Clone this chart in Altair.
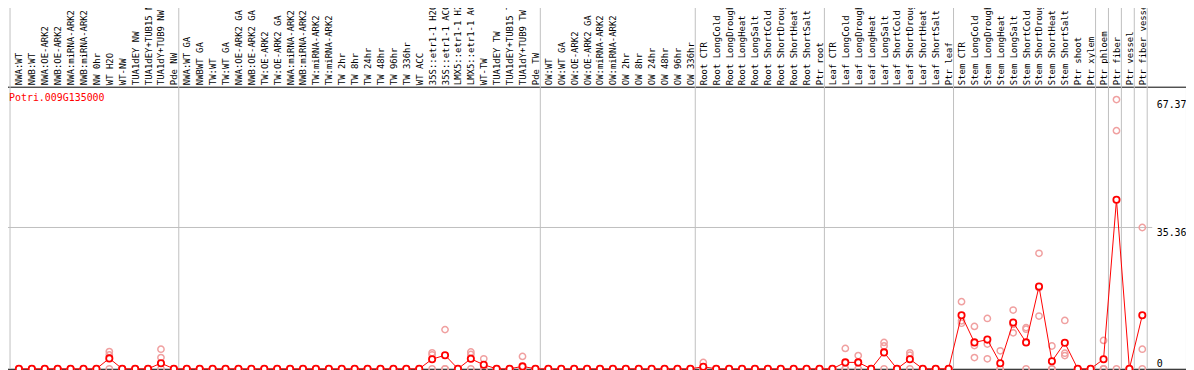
import json
import altair as alt
import pandas as pd

gene = "Potri.009G135000"

categories = [
    "NWA:WT", "NWB:WT", "NWA:OE-ARK2", "NWB:OE-ARK2", "NWA:miRNA-ARK2", "NWB:miRNA-ARK2",
    "NW 0hr", "WT H2O", "WT-NW", "TUA1dEY NW", "TUA1dEY+TUB15 NW", "TUA1dY+TUB9 NW", "Pde NW",
    "NWA:WT GA", "NWBWT GA", "TW:WT", "TW:WT GA", "NWA:OE-ARK2 GA", "NWB:OE-ARK2 GA",
    "TW:OE-ARK2", "TW:OE-ARK2 GA", "NWA:miRNA-ARK2", "NWB:miRNA-ARK2", "TW:miRNA-ARK2",
    "TW:miRNA-ARK2", "TW 2hr", "TW 8hr", "TW 24hr", "TW 48hr", "TW 96hr", "TW 336hr", "WT ACC",
    "35S::etr1-1 H2O", "35S::etr1-1 ACC", "LMX5::etr1-1 H2O", "LMX5::etr1-1 ACC", "WT-TW",
    "TUA1dEY TW", "TUA1dEY+TUB15 TW", "TUA1dY+TUB9 TW", "Pde TW",
    "OW:WT", "OW:WT GA", "OW:OE-ARK2", "OW:OE-ARK2 GA", "OW:miRNA-ARK2", "OW:miRNA-ARK2",
    "OW 2hr", "OW 8hr", "OW 24hr", "OW 48hr", "OW 96hr", "OW 336hr",
    "Root CTR", "Root LongCold", "Root LongDrought", "Root LongHeat", "Root LongSalt",
    "Root ShortCold", "Root ShortDrought", "Root ShortHeat", "Root ShortSalt", "Ptr root",
    "Leaf CTR", "Leaf LongCold", "Leaf LongDrought", "Leaf LongHeat", "Leaf LongSalt",
    "Leaf ShortCold", "Leaf ShortDrought", "Leaf ShortHeat", "Leaf ShortSalt", "Ptr leaf",
    "Stem CTR", "Stem LongCold", "Stem LongDrought", "Stem LongHeat", "Stem LongSalt",
    "Stem ShortCold", "Stem ShortDrought", "Stem ShortHeat", "Stem ShortSalt", "Ptr shoot",
    "Ptr xylem", "Ptr phloem", "Ptr fiber", "Ptr vessel", "Ptr fiber vessel",
]

mean_values = (
    [0, 0, 0, 0, 0, 0, 0, 2.6, 0, 0, 0, 1.4, 0]
    + [0] * 19 + [2.4, 3.4, 0, 2.5, 1.0, 0, 0, 0.6, 0]
    + [0] * 12
    + [0.5, 0, 0, 0, 0, 0, 0, 0, 0, 0]
    + [0, 1.6, 1.6, 0, 4.1, 0, 2.4, 0, 0, 0]
    + [13.4, 6.6, 7.3, 1.4, 11.6, 6.6, 20.6, 1.9, 6.5, 0, 0]
    + [2.4, 42.3, 0, 13.4]
)
rep_a = (
    [0, 0, 0, 0, 0, 0, 0, 4.3, 0, 0, 0, 4.9, 0]
    + [0] * 19 + [4.0, 9.8, 0, 4.2, 2.5, 0, 0, 3.1, 0]
    + [0] * 12
    + [1.6, 0, 0, 0, 0, 0, 0, 0, 0, 0]
    + [0, 5.1, 3.3, 0, 6.6, 0, 4.0, 0, 0, 0]
    + [16.8, 10.6, 12.6, 4.5, 14.7, 10.3, 28.9, 5.7, 12.1, 0, 0]
    + [7.1, 67.37, 0, 35.36]
)
rep_b = (
    [0, 0, 0, 0, 0, 0, 0, 3.5, 0, 0, 0, 2.8, 0]
    + [0] * 19 + [3.5, 0, 0, 3.6, 0, 0, 0, 0, 0]
    + [0] * 12
    + [0] * 10
    + [0, 0, 1.6, 0, 5.7, 0, 3.4, 0, 0, 0]
    + [12.0, 5.8, 6.2, 0, 11.1, 9.9, 20.3, 0, 3.9, 0, 0]
    + [0, 59.6, 0, 4.9]
)
rep_c = (
    [0] * 13
    + [0] * 28
    + [0] * 12
    + [0] * 10
    + [0] * 10
    + [11.4, 2.8, 2.5, 0, 9.0, 0, 13.2, 0, 3.3, 0, 0]
    + [0, 0, 0, 0]
)
group_edges = [-0.69, 12.38, 40.38, 52.38, 62.38, 72.38, 83.38, 84.38, 85.38, 86.38, 87.38]
y_ticks = [0, 35.36, 67.37]
h_grid = [35.36]

W, H = 1193, 284
STEP, FIRST = 13, 18
PX_PER_UNIT = 4.0226
MONO = "DejaVu Sans Mono"

idx = list(range(len(categories)))
mean_df = pd.DataFrame({"i": idx, "v": mean_values})
rep_df = pd.DataFrame({"i": idx * 3, "v": rep_a + rep_b + rep_c})
edge_df = pd.DataFrame({"i": group_edges})
hgrid_df = pd.DataFrame({"v": h_grid})
title_df = pd.DataFrame({"t": [gene]})

label_expr = json.dumps(categories) + "[datum.value]"

x_enc = alt.X(
    "i:Q",
    scale=alt.Scale(domain=[-FIRST / STEP, (W - FIRST) / STEP], nice=False, zero=False),
    axis=alt.Axis(
        orient="top", values=idx, labelExpr=label_expr, labelAngle=270,
        labelAlign="left", labelBaseline="middle", labelPadding=2,
        labelFont=MONO, labelFontSize=9, labelColor="black", labelOverlap=False,
        labelLimit=400, ticks=False, domain=False, grid=False, title=None,
    ),
)
y_enc = alt.Y(
    "v:Q",
    scale=alt.Scale(domain=[0, H / PX_PER_UNIT], nice=False, zero=True),
    axis=alt.Axis(
        orient="right", values=y_ticks, format=".2~f", offset=-33, labelPadding=3,
        labelBaseline={"condition": {"test": "datum.value == 0", "value": "bottom"}, "value": "top"},
        labelAlign="left", labelOverlap=False,
        labelFont=MONO, labelFontSize=10, labelColor="black",
        ticks=False, domain=False, grid=False, title=None,
    ),
)

vrules = alt.Chart(edge_df).mark_rule(color="#c0c0c0", strokeWidth=1).encode(
    x=x_enc, y=alt.value(-80), y2=alt.value(H)
)
hrules = alt.Chart(hgrid_df).mark_rule(color="#c0c0c0", strokeWidth=1).encode(
    y=y_enc, x=alt.value(0), x2=alt.value(1159)
)
reps = alt.Chart(rep_df).mark_point(
    shape="circle", filled=False, color="#f0a0a0", size=40, strokeWidth=1.5, opacity=1
).encode(x=x_enc, y=y_enc)
line = alt.Chart(mean_df).mark_line(color="#ff0000", strokeWidth=1).encode(x=x_enc, y=y_enc)
means = alt.Chart(mean_df).mark_point(
    shape="circle", filled=False, fill="white", fillOpacity=1, color="#ff0000",
    size=40, strokeWidth=1.8, opacity=1
).encode(x=x_enc, y=y_enc)
title = alt.Chart(title_df).mark_text(
    color="#ff0000", font=MONO, fontSize=10, align="left", baseline="middle"
).encode(x=alt.value(8), y=alt.value(11), text="t:N")

chart = (
    alt.layer(vrules, hrules, reps, line, means, title)
    .properties(
        width=W, height=H,
        padding={"left": -7, "top": 78, "right": 0, "bottom": 0},
        autosize=alt.AutoSizeParams(type="none"),
    )
    .configure_view(stroke="black", strokeWidth=1)
)

chart.save("out.html", embed_options={"renderer": "svg", "actions": False})
